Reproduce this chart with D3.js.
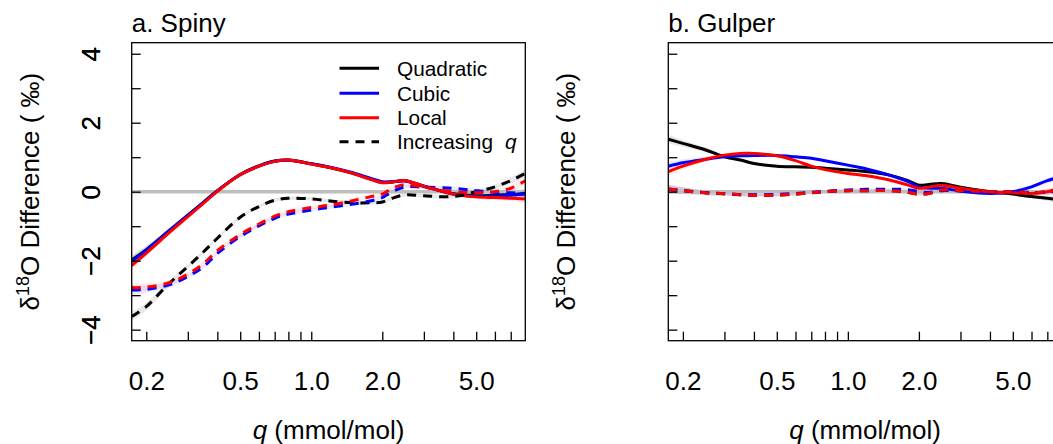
<!DOCTYPE html>
<html><head><meta charset="utf-8">
<script src="https://cdn.jsdelivr.net/npm/d3@7"></script>
<style>body{margin:0;background:#fff}svg{display:block}text{font-family:"Liberation Sans",Arial,sans-serif;fill:#000}</style>
</head><body><svg id="c" width="1053" height="444"></svg>
<script>
// ---- data ----
const q = [0.1735, 0.2, 0.25, 0.3, 0.35, 0.4, 0.5, 0.6, 0.7, 0.8, 1.0, 1.2, 1.5, 1.8, 2.0, 2.2, 2.5, 3, 4, 5, 6, 7, 8.07];
const xTicks = [0.2,0.3,0.4,0.5,0.6,0.7,0.8,0.9,1,2,3,4,5,6,7];
const xLabels = {0.2:"0.2",0.5:"0.5",1:"1.0",2:"2.0",5:"5.0"};
const yTicks = [-4,-3,-2,-1,0,1,2,3,4];
const yLabels = {"-4":"\u22124","-2":"\u22122","0":"0","2":"2","4":"4"};
// panel a: Spiny
const quadA   = [-1.98,-1.68,-1.13,-0.68,-0.30,0.03,0.50,0.75,0.89,0.92,0.81,0.70,0.53,0.36,0.27,0.28,0.32,0.16,-0.06,-0.12,-0.10,-0.08,-0.05];
const cubicA  = [-2.02,-1.70,-1.14,-0.69,-0.31,0.02,0.49,0.74,0.88,0.91,0.81,0.71,0.55,0.38,0.29,0.29,0.31,0.16,-0.07,-0.14,-0.13,-0.10,-0.07];
const localA  = [-2.14,-1.78,-1.19,-0.72,-0.33,0.01,0.49,0.74,0.88,0.92,0.80,0.70,0.53,0.35,0.26,0.28,0.32,0.16,-0.07,-0.15,-0.17,-0.19,-0.21];
const quadIncA  = [-3.62,-3.33,-2.66,-2.17,-1.74,-1.35,-0.74,-0.43,-0.25,-0.19,-0.21,-0.27,-0.32,-0.32,-0.30,-0.19,-0.09,-0.12,-0.14,0.00,0.14,0.32,0.53];
const cubicIncA = [-2.85,-2.83,-2.70,-2.46,-2.17,-1.79,-1.30,-0.99,-0.77,-0.65,-0.53,-0.45,-0.36,-0.26,-0.17,0.00,0.14,0.13,0.10,0.03,-0.02,-0.03,-0.05];
const localIncA = [-2.78,-2.77,-2.64,-2.39,-2.08,-1.71,-1.24,-0.94,-0.71,-0.58,-0.46,-0.39,-0.26,-0.14,-0.07,0.10,0.21,0.13,0.00,-0.03,0.00,0.10,0.32];
const seA = [0.14,0.11,0.08,0.06,0.05,0.05,0.05,0.05,0.05,0.05,0.05,0.05,0.05,0.05,0.05,0.05,0.05,0.05,0.06,0.06,0.07,0.09,0.12];
// panel b: Gulper
const quadB   = [1.52,1.40,1.21,1.01,0.92,0.82,0.74,0.72,0.71,0.68,0.63,0.58,0.48,0.32,0.19,0.21,0.24,0.13,0.00,-0.07,-0.14,-0.19,-0.24];
const cubicB  = [0.74,0.84,0.94,1.01,1.04,1.05,1.05,1.01,0.97,0.90,0.77,0.66,0.48,0.29,0.14,0.10,0.10,0.02,-0.05,0.00,0.14,0.32,0.45];
const localB  = [0.58,0.74,0.94,1.06,1.11,1.11,1.04,0.90,0.74,0.64,0.53,0.46,0.34,0.19,0.10,0.13,0.19,0.10,0.00,-0.03,-0.05,0.00,0.08];
const quadIncB  = [0.08,0.03,-0.03,-0.06,-0.09,-0.10,-0.10,-0.07,-0.03,0.00,0.03,0.03,0.03,-0.02,-0.07,-0.05,0.05,0.03,0.00,0.00,-0.03,0.00,0.07];
const cubicIncB = [0.06,0.03,-0.03,-0.06,-0.08,-0.09,-0.08,-0.05,-0.02,0.01,0.05,0.07,0.07,0.06,0.00,-0.02,0.03,0.02,0.00,0.00,-0.02,-0.01,0.02];
const localIncB = [0.08,0.03,-0.03,-0.06,-0.09,-0.10,-0.10,-0.07,-0.03,0.00,0.03,0.03,0.03,-0.02,-0.07,-0.05,0.05,0.03,0.00,0.00,-0.03,0.00,0.07];
const seB = [0.13,0.10,0.07,0.05,0.05,0.04,0.04,0.04,0.04,0.04,0.04,0.04,0.04,0.04,0.04,0.04,0.04,0.04,0.04,0.05,0.06,0.08,0.10];

// ---- layout ----
const svg = d3.select("#c");
const BOX_W = 393.6, TOP = 42.7, BOT = 340.7;
const FONT = 26;
const colors = {quad:"#000000", cubic:"#0000ff", local:"#ff0000"};
const panels = [
  {title:"a. Spiny", left:131.7, se:seA, legend:true,
   solid:[["quad",quadA],["cubic",cubicA],["local",localA]],
   dashed:[["quad",quadIncA],["cubic",cubicIncA],["local",localIncA]]},
  {title:"b. Gulper", left:668.3, se:seB, legend:false,
   solid:[["quad",quadB],["cubic",cubicB],["local",localB]],
   dashed:[["quad",quadIncB],["cubic",cubicIncB],["local",localIncB]]}
];
const lx0 = Math.log10(0.2), lx1 = Math.log10(7), ex = 0.04*(lx1-lx0);
const xDomain = [Math.pow(10,lx0-ex), Math.pow(10,lx1+ex)];
const yDomain = [-4-0.32, 4+0.32];
const curve = d3.curveCatmullRom.alpha(0.5);

panels.forEach((p,pi)=>{
  const x = d3.scaleLog().domain(xDomain).range([p.left, p.left+BOX_W]);
  const y = d3.scaleLinear().domain(yDomain).range([BOT, TOP]);
  const g = svg.append("g");
  const cid = "clip"+pi;
  g.append("clipPath").attr("id",cid).append("rect")
    .attr("x",p.left).attr("y",TOP).attr("width",BOX_W).attr("height",BOT-TOP);
  const plot = g.append("g").attr("clip-path",`url(#${cid})`);

  const rows = (vals)=> q.map((qq,i)=>({q:qq, v:vals[i], se:p.se[i]}));
  const line = d3.line().x(d=>x(d.q)).y(d=>y(d.v)).curve(curve);
  const area = d3.area().x(d=>x(d.q)).y0(d=>y(d.v-d.se)).y1(d=>y(d.v+d.se)).curve(curve);

  // ribbons
  [...p.solid, ...p.dashed].forEach(([k,vals])=>{
    plot.append("path").attr("d",area(rows(vals)))
      .attr("fill", k==="quad" ? "#000" : colors[k])
      .attr("fill-opacity", k==="quad" ? 0.09 : 0.08);
  });
  // zero line
  plot.append("line").attr("x1",p.left).attr("x2",p.left+BOX_W)
    .attr("y1",y(0)).attr("y2",y(0)).attr("stroke","#bebebe").attr("stroke-width",3.5);
  // curves
  p.solid.forEach(([k,vals])=>{
    plot.append("path").attr("d",line(rows(vals))).attr("fill","none")
      .attr("stroke",colors[k]).attr("stroke-width",3);
  });
  p.dashed.forEach(([k,vals])=>{
    plot.append("path").attr("d",line(rows(vals))).attr("fill","none")
      .attr("stroke",colors[k]).attr("stroke-width",3).attr("stroke-dasharray","9,7");
  });

  // axes
  const xa = g.append("g").attr("transform",`translate(0,${BOT})`)
    .call(d3.axisBottom(x).tickValues(xTicks).tickSizeInner(-9).tickSizeOuter(0)
      .tickFormat(d=>xLabels[d]||""));
  xa.select(".domain").remove();
  xa.selectAll(".tick line").attr("stroke","#000").attr("stroke-width",1.3);
  xa.selectAll(".tick text").attr("y",49).attr("dy",0)
    .style("font-size",FONT+"px").style("font-family",'"Liberation Sans",Arial,sans-serif').attr("fill","#000");

  const ya = g.append("g").attr("transform",`translate(${p.left},0)`)
    .call(d3.axisLeft(y).tickValues(yTicks).tickSizeInner(-9).tickSizeOuter(0)
      .tickFormat(d=>yLabels[String(d)]||""));
  ya.select(".domain").remove();
  ya.selectAll(".tick line").attr("stroke","#000").attr("stroke-width",1.3);
  ya.selectAll(".tick text").attr("transform","rotate(-90)").attr("x",0).attr("y",-(p.left-99.5))
    .attr("dy",0).attr("text-anchor","middle")
    .style("font-size",FONT+"px").style("font-family",'"Liberation Sans",Arial,sans-serif').attr("fill","#000");

  // box
  g.append("rect").attr("x",p.left).attr("y",TOP).attr("width",BOX_W).attr("height",BOT-TOP)
    .attr("fill","none").attr("stroke","#000").attr("stroke-width",1.3);

  // titles
  g.append("text").attr("x",p.left).attr("y",31.7).style("font-size",FONT+"px").text(p.title);
  const xt = g.append("text").attr("x",p.left+BOX_W/2).attr("y",439).attr("text-anchor","middle")
    .style("font-size",FONT+"px");
  xt.append("tspan").style("font-style","italic").text("q");
  xt.append("tspan").text(" (mmol/mol)");
  const yt = g.append("text").attr("transform",`translate(${p.left-93},${(TOP+BOT)/2}) rotate(-90)`)
    .attr("text-anchor","middle").style("font-size",FONT+"px");
  yt.append("tspan").text("\u03b4");
  yt.append("tspan").attr("dy",-10).style("font-size","18px").text("18");
  yt.append("tspan").attr("dy",10).text("O Difference ( \u2030)");

  // legend
  if(p.legend){
    const L = g.append("g");
    const items = [["quad",false,"Quadratic"],["cubic",false,"Cubic"],["local",false,"Local"],["quad",true,"Increasing"]];
    const rowsY = [68.3, 93.3, 117.7, 141.7];
    items.forEach((it,i)=>{
      const ln = L.append("line").attr("x1",339.5).attr("x2",379).attr("y1",rowsY[i]).attr("y2",rowsY[i])
        .attr("stroke",colors[it[0]]).attr("stroke-width",3);
      if(it[1]) ln.attr("stroke-dasharray","9,7");
      const t = L.append("text").attr("x",397).attr("y",rowsY[i]).attr("dy","0.36em").style("font-size","20.8px");
      t.append("tspan").text(it[2]);
      if(it[1]) t.append("tspan").attr("dx",12).style("font-style","italic").text("q");
    });
  }
});
</script></body></html>
